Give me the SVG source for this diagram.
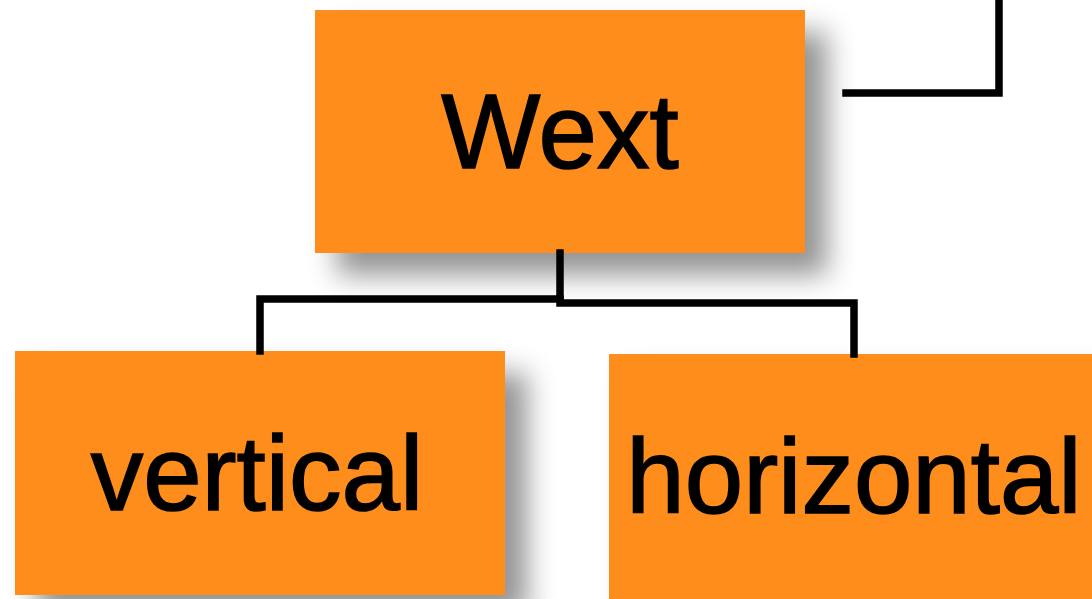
<svg xmlns="http://www.w3.org/2000/svg" width="1092" height="599" viewBox="0 0 1092 599">
  <style>
    .box { fill: #FE8D1F; filter: url(#shadow); }
    .label { font-family: "Liberation Sans", Arial, sans-serif; font-size: 105px; fill: #000; stroke: #000; stroke-width: 1.6; text-anchor: middle; }
    .wire { fill: none; stroke: #000; stroke-width: 7.5; stroke-linecap: square; stroke-linejoin: miter; }
  </style>
  <defs>
    <filter id="shadow" x="-25%" y="-25%" width="160%" height="170%">
      <feDropShadow dx="22" dy="22" stdDeviation="14" flood-color="#000" flood-opacity="0.42"/>
    </filter>
  </defs>
  <rect width="1092" height="599" fill="#fff"/>

  <g id="node-wext">
    <rect class="box" x="315" y="10" width="490" height="243"/>
    <text class="label" x="560" y="168">Wext</text>
  </g>
  <g id="node-vertical">
    <rect class="box" x="15" y="351" width="490" height="244"/>
    <text class="label" x="257" y="510">vertical</text>
  </g>
  <g id="node-horizontal">
    <rect class="box" x="609" y="354" width="490" height="250"/>
    <text class="label" x="854" y="513">horizontal</text>
  </g>

  <g id="connectors">
    <path class="wire" d="M560 253 V299 H260 V351"/>
    <path class="wire" d="M560 299 V303 H854 V354"/>
    <path class="wire" d="M846 93 H999 V-5"/>
  </g>
</svg>
